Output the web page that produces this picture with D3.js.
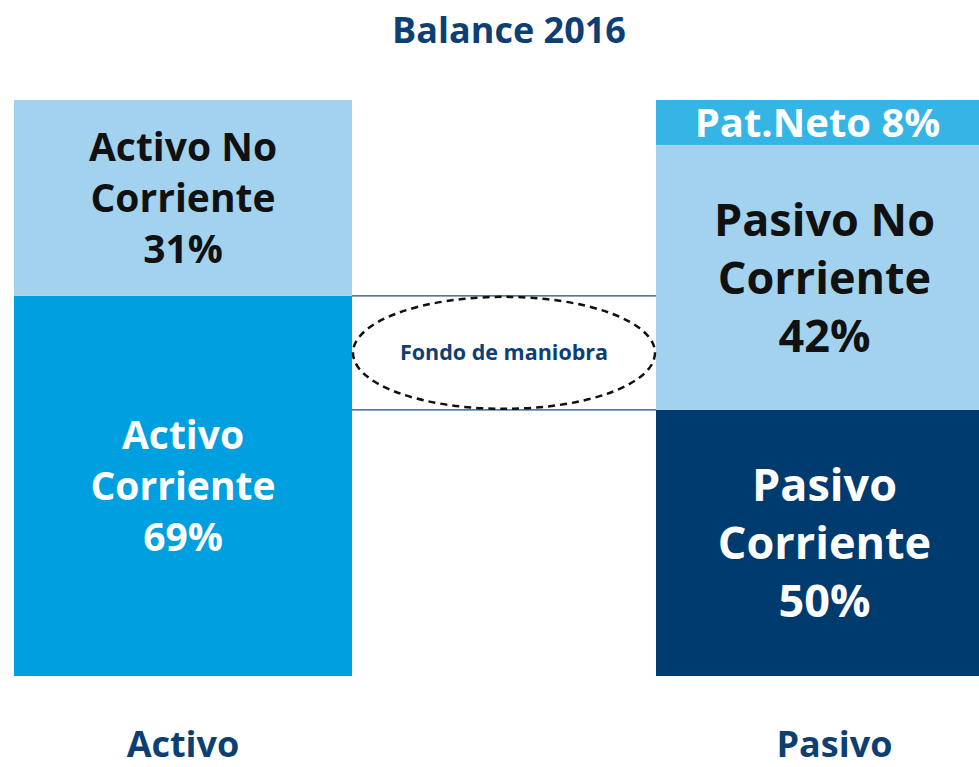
<!DOCTYPE html>
<html><head><meta charset="utf-8">
<script src="https://cdn.jsdelivr.net/npm/d3@7"></script>
<style>body{margin:0;background:#fff}svg{display:block}text{font-family:"Open Sans",sans-serif;font-weight:700}</style>
</head><body><svg id="c" width="979" height="767"></svg>
<script>
const title = "Balance 2016";
const columns = ["Activo", "Pasivo"];
// segment names bottom→top, displayed labels, and heights (share of bar)
const activoNames = ["Activo\nCorriente", "Activo No\nCorriente"];
const activoLabels = ["69%", "31%"];
const activoShares = [66, 34];
const pasivoNames = ["Pasivo\nCorriente", "Pasivo No\nCorriente", "Pat.Neto"];
const pasivoLabels = ["50%", "42%", "8%"];
const pasivoShares = [46.2, 46.0, 7.8];
const activoColors = ["#009fe0", "#a3d2ee"];
const pasivoColors = ["#003b70", "#a3d2ee", "#34b5e6"];
const activoText = ["#ffffff", "#111111"];
const pasivoText = ["#ffffff", "#111111", "#ffffff"];
const annotation = "Fondo de maniobra";

const svg = d3.select("#c");
const y = d3.scaleLinear().domain([0, 100]).range([676, 100]);
const x = d3.scaleOrdinal().domain(columns).range([[14, 352], [656, 979]]);

svg.append("text").attr("x", 509).attr("y", 43).attr("text-anchor", "middle")
  .attr("fill", "#0d3f73").style("font-size", "36px").text(title);

function stack(col, names, labels, shares, colors, tcolors, fs, lh, dx, inline, inlineFs) {
  const [x0, x1] = x(col);
  let cum = 0;
  const segs = shares.map((s, i) => { const d = {y0: cum, y1: cum + s, i}; cum += s; return d; });
  const g = svg.append("g");
  g.selectAll("rect").data(segs).join("rect")
    .attr("x", x0).attr("width", x1 - x0)
    .attr("y", d => y(d.y1)).attr("height", d => y(d.y0) - y(d.y1))
    .attr("fill", d => colors[d.i]);
  segs.forEach(d => {
    const cy = (y(d.y0) + y(d.y1)) / 2;
    let cx = (x0 + x1) / 2 + dx;
    let lines, f = fs;
    if (inline && inline(d.i)) { lines = [names[d.i] + " " + labels[d.i]]; f = inlineFs; cx = (x0 + x1) / 2; }
    else lines = names[d.i].split("\n").concat([labels[d.i]]);
    const t = g.append("text").attr("text-anchor", "middle").attr("fill", tcolors[d.i])
      .style("font-size", f + "px");
    lines.forEach((l, k) => {
      t.append("tspan").attr("x", cx)
        .attr("y", cy + (k - (lines.length - 1) / 2) * lh + f * 0.36).text(l);
    });
  });
  svg.append("text").attr("x", (x0 + x1) / 2 + (col === "Pasivo" ? 17 : 0)).attr("y", 757)
    .attr("text-anchor", "middle").attr("fill", "#0d3f73").style("font-size", "36px").text(col);
}
stack("Activo", activoNames, activoLabels, activoShares, activoColors, activoText, 39, 51, 0);
stack("Pasivo", pasivoNames, pasivoLabels, pasivoShares, pasivoColors, pasivoText, 45, 58, 7, i => i === 2, 40);

// fondo de maniobra lines between boundaries
const yA = y(activoShares[0]);
const yP = y(pasivoShares[0]);
[yA, yP].forEach(yy => svg.append("line").attr("x1", 352).attr("x2", 656)
  .attr("y1", yy).attr("y2", yy).attr("stroke", "#1f4e79").attr("stroke-width", 1.3));
svg.append("ellipse").attr("cx", 504).attr("cy", (yA + yP) / 2).attr("rx", 151).attr("ry", 56)
  .attr("fill", "none").attr("stroke", "#111").attr("stroke-width", 2.5).attr("stroke-dasharray", "7,5");
svg.append("text").attr("x", 504).attr("y", (yA + yP) / 2 + 7.5).attr("text-anchor", "middle")
  .attr("fill", "#0d3f73").style("font-size", "21.5px").text(annotation);
</script></body></html>
